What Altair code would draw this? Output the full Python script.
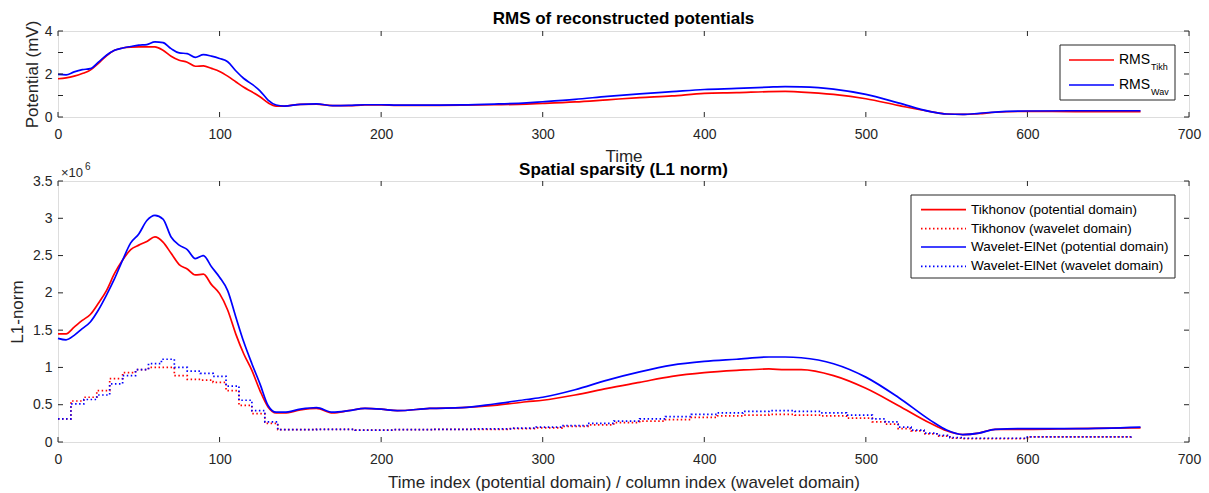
import altair as alt
import pandas as pd

# ---------------- data ----------------
t_solid = [0, 5, 10, 15, 20, 25, 30, 35, 40, 45, 50, 55, 60, 65, 70, 75, 80, 85, 90, 95,
           100, 105, 110, 115, 120, 125, 130, 135, 140, 150, 160, 170, 180, 190, 200, 210,
           230, 250, 270, 290, 300, 320, 340, 360, 380, 400, 420, 440, 450, 460, 480, 500,
           520, 540, 550, 560, 570, 580, 600, 630, 670]

rms_tikh = [1.78, 1.82, 1.90, 2.02, 2.18, 2.50, 2.85, 3.10, 3.21, 3.25, 3.26, 3.26, 3.26, 3.10,
            2.83, 2.64, 2.55, 2.36, 2.38, 2.26, 2.12, 1.90, 1.64, 1.38, 1.17, 0.94, 0.66, 0.51,
            0.51, 0.59, 0.60, 0.53, 0.53, 0.56, 0.56, 0.54, 0.54, 0.55, 0.57, 0.60, 0.63, 0.70,
            0.80, 0.90, 0.98, 1.10, 1.13, 1.18, 1.19, 1.16, 1.05, 0.85, 0.54, 0.25, 0.14, 0.12,
            0.15, 0.22, 0.26, 0.25, 0.25]
rms_wav = [1.98, 1.96, 2.10, 2.20, 2.25, 2.55, 2.87, 3.10, 3.21, 3.28, 3.34, 3.37, 3.49, 3.46,
           3.18, 2.98, 2.95, 2.77, 2.90, 2.83, 2.72, 2.57, 2.15, 1.79, 1.53, 1.22, 0.79, 0.56,
           0.51, 0.59, 0.61, 0.53, 0.54, 0.57, 0.57, 0.55, 0.55, 0.56, 0.60, 0.66, 0.71, 0.82,
           0.96, 1.08, 1.18, 1.28, 1.33, 1.39, 1.41, 1.40, 1.30, 1.05, 0.66, 0.25, 0.14, 0.12,
           0.17, 0.23, 0.28, 0.29, 0.29]

l1_tikh_pot = [1.45, 1.45, 1.54, 1.63, 1.71, 1.86, 2.03, 2.26, 2.44, 2.58, 2.64, 2.69, 2.75, 2.68,
               2.53, 2.38, 2.32, 2.24, 2.25, 2.11, 1.99, 1.77, 1.45, 1.18, 0.96, 0.69, 0.47, 0.39,
               0.39, 0.43, 0.45, 0.39, 0.42, 0.45, 0.44, 0.42, 0.45, 0.46, 0.49, 0.54, 0.56, 0.63,
               0.72, 0.80, 0.88, 0.93, 0.96, 0.98, 0.97, 0.97, 0.89, 0.72, 0.49, 0.25, 0.15, 0.10,
               0.12, 0.17, 0.17, 0.18, 0.19]
l1_wav_pot = [1.39, 1.37, 1.43, 1.52, 1.61, 1.77, 1.97, 2.19, 2.44, 2.67, 2.79, 2.97, 3.04, 2.99,
              2.75, 2.64, 2.58, 2.46, 2.50, 2.35, 2.21, 2.03, 1.68, 1.34, 1.05, 0.78, 0.49, 0.40,
              0.40, 0.44, 0.46, 0.40, 0.42, 0.45, 0.44, 0.42, 0.45, 0.46, 0.51, 0.57, 0.60, 0.70,
              0.83, 0.94, 1.03, 1.08, 1.11, 1.14, 1.14, 1.13, 1.05, 0.87, 0.60, 0.29, 0.16, 0.10,
              0.12, 0.17, 0.18, 0.18, 0.20]

t_wav = [0, 8, 16, 24, 32, 40, 48, 56, 64, 72, 80, 88, 96, 104, 112, 120, 128, 136, 160, 184,
         208, 232, 256, 280, 296, 312, 328, 344, 360, 376, 392, 408, 424, 440, 456, 472, 488,
         504, 512, 520, 528, 536, 544, 552, 560, 600, 664]
l1_tikh_wav = [0.31, 0.55, 0.60, 0.69, 0.85, 0.93, 0.97, 1.00, 1.00, 0.89, 0.84, 0.83, 0.80, 0.69,
               0.49, 0.38, 0.25, 0.165, 0.17, 0.16, 0.165, 0.17, 0.17, 0.18, 0.19, 0.21, 0.23,
               0.26, 0.28, 0.30, 0.33, 0.35, 0.36, 0.37, 0.36, 0.35, 0.32, 0.27, 0.24, 0.18, 0.15,
               0.11, 0.08, 0.05, 0.045, 0.07, 0.076]
l1_wav_wav = [0.31, 0.51, 0.57, 0.63, 0.78, 0.89, 0.97, 1.05, 1.11, 1.00, 0.95, 0.92, 0.88, 0.75,
              0.56, 0.42, 0.27, 0.165, 0.17, 0.16, 0.165, 0.17, 0.175, 0.185, 0.20, 0.22, 0.25,
              0.28, 0.31, 0.34, 0.37, 0.39, 0.41, 0.42, 0.41, 0.39, 0.36, 0.31, 0.27, 0.20, 0.16,
              0.12, 0.09, 0.06, 0.05, 0.07, 0.076]

x_ticks = [0, 100, 200, 300, 400, 500, 600, 700]
y_ticks_top = [0, 1, 2, 3, 4]
y_ticks_bot = [0, 0.5, 1, 1.5, 2, 2.5, 3, 3.5]
y_labels_top = [0, 2, 4]

# ---------------- style ----------------
W = 1131
H_TOP = 86
H_BOT = 261
RED = "#FF0000"
BLUE = "#0000FF"
FONT = "Liberation Sans"
GRAY = "#262626"
LW = 1.7
DOT = [1.5, 2.5]
TITLE_FS = 17
LEG_FS = 13.5

xscale = alt.Scale(domain=[0, 700], nice=False, zero=False)


def axis_x(title, tpad):
    return alt.Axis(values=x_ticks, ticks=False, domain=False, grid=False, labelPadding=10,
                    labelFlush=False, labelOverlap=False,
                    labelFont=FONT, labelFontSize=14, labelColor=GRAY, title=title,
                    titleFont=FONT, titleFontSize=TITLE_FS, titleFontWeight="normal",
                    titleColor=GRAY, titlePadding=tpad)


def axis_y(title, vals, tpad, fmt):
    return alt.Axis(values=vals, ticks=False, domain=False, grid=False, labelPadding=6,
                    labelFlush=False, labelOverlap=False,
                    labelFont=FONT, labelFontSize=14, labelColor=GRAY, title=title,
                    titleFont=FONT, titleFontSize=TITLE_FS, titleFontWeight="normal",
                    titleColor=GRAY, titlePadding=tpad, format=fmt)


def tick_layers(yvals, yscale, h, ax_x, ax_y):
    xt = pd.DataFrame({"t": x_ticks})
    yt = pd.DataFrame({"v": yvals})
    bot = alt.Chart(xt).mark_rule(color=GRAY, strokeWidth=1).encode(
        x=alt.X("t:Q", scale=xscale, axis=ax_x), y=alt.value(h), y2=alt.value(h - 5))
    top = alt.Chart(xt).mark_rule(color=GRAY, strokeWidth=1).encode(
        x=alt.X("t:Q", scale=xscale, axis=ax_x), y=alt.value(0), y2=alt.value(5))
    left = alt.Chart(yt).mark_rule(color=GRAY, strokeWidth=1).encode(
        y=alt.Y("v:Q", scale=yscale, axis=ax_y), x=alt.value(0), x2=alt.value(5))
    right = alt.Chart(yt).mark_rule(color=GRAY, strokeWidth=1).encode(
        y=alt.Y("v:Q", scale=yscale, axis=ax_y), x=alt.value(W - 5), x2=alt.value(W))
    return [bot, top, left, right]


one = pd.DataFrame({"k": [0]})

# ---------------- top panel ----------------
df_top = pd.DataFrame({
    "t": t_solid * 2,
    "v": rms_tikh + rms_wav,
    "s": ["Tikh"] * len(t_solid) + ["Wav"] * len(t_solid),
})
yscale_top = alt.Scale(domain=[0, 4], nice=False)
color_top = alt.Scale(domain=["Tikh", "Wav"], range=[RED, BLUE])
ax_x_top = axis_x("Time", 7)
ax_y_top = axis_y("Potential (mV)", y_labels_top, 3, "d")

top_lines = alt.Chart(df_top).mark_line(strokeWidth=LW, interpolate="monotone").encode(
    x=alt.X("t:Q", scale=xscale, axis=ax_x_top),
    y=alt.Y("v:Q", scale=yscale_top, axis=ax_y_top),
    color=alt.Color("s:N", scale=color_top, legend=None),
    detail="s:N",
)

# legend (top)
lt_box = alt.Chart(one).mark_rect(fill="white", stroke=GRAY, strokeWidth=1).encode(
    x=alt.value(1002), x2=alt.value(1117), y=alt.value(14), y2=alt.value(69))
lt_l1 = alt.Chart(one).mark_rule(color=RED, strokeWidth=LW).encode(
    x=alt.value(1011), x2=alt.value(1056), y=alt.value(29))
lt_l2 = alt.Chart(one).mark_rule(color=BLUE, strokeWidth=LW).encode(
    x=alt.value(1011), x2=alt.value(1056), y=alt.value(54))
lt_t1 = alt.Chart(one).mark_text(text="RMS", align="left", baseline="middle", font=FONT,
                                 fontSize=14, color="#000000").encode(
    x=alt.value(1061), y=alt.value(29))
lt_s1 = alt.Chart(one).mark_text(text="Tikh", align="left", baseline="middle", font=FONT,
                                 fontSize=9, color="#000000").encode(
    x=alt.value(1093), y=alt.value(36))
lt_t2 = alt.Chart(one).mark_text(text="RMS", align="left", baseline="middle", font=FONT,
                                 fontSize=14, color="#000000").encode(
    x=alt.value(1061), y=alt.value(54))
lt_s2 = alt.Chart(one).mark_text(text="Wav", align="left", baseline="middle", font=FONT,
                                 fontSize=9, color="#000000").encode(
    x=alt.value(1093), y=alt.value(61))

top = alt.layer(top_lines, *tick_layers(y_ticks_top, yscale_top, H_TOP, ax_x_top, ax_y_top),
                lt_box, lt_l1, lt_l2, lt_t1, lt_s1, lt_t2, lt_s2).properties(
    width=W, height=H_TOP,
    title=alt.TitleParams("RMS of reconstructed potentials", font=FONT, fontSize=TITLE_FS,
                          fontWeight="bold", color="#000000", offset=-8, anchor="middle",
                          frame="group"),
)

# ---------------- bottom panel ----------------
series_names = ["Tikhonov (potential domain)", "Tikhonov (wavelet domain)",
                "Wavelet-ElNet (potential domain)", "Wavelet-ElNet (wavelet domain)"]
df_pot = pd.DataFrame({
    "t": t_solid * 2,
    "v": l1_tikh_pot + l1_wav_pot,
    "s": [series_names[0]] * len(t_solid) + [series_names[2]] * len(t_solid),
})
df_wav = pd.DataFrame({
    "t": t_wav * 2,
    "v": l1_tikh_wav + l1_wav_wav,
    "s": [series_names[1]] * len(t_wav) + [series_names[3]] * len(t_wav),
})
yscale_bot = alt.Scale(domain=[0, 3.5], nice=False)
color_bot = alt.Scale(domain=series_names, range=[RED, RED, BLUE, BLUE])
ax_x_bot = axis_x("Time index (potential domain) / column index (wavelet domain)", 8)
ax_y_bot = axis_y("L1-norm", y_ticks_bot, 6, "~g")

bot_pot = alt.Chart(df_pot).mark_line(strokeWidth=LW, interpolate="monotone").encode(
    x=alt.X("t:Q", scale=xscale, axis=ax_x_bot),
    y=alt.Y("v:Q", scale=yscale_bot, axis=ax_y_bot),
    color=alt.Color("s:N", scale=color_bot, legend=None),
    detail="s:N",
)
bot_wav = alt.Chart(df_wav).mark_line(strokeWidth=LW, interpolate="step-after",
                                      strokeDash=DOT).encode(
    x=alt.X("t:Q", scale=xscale, axis=ax_x_bot),
    y=alt.Y("v:Q", scale=yscale_bot, axis=ax_y_bot),
    color=alt.Color("s:N", scale=color_bot, legend=None),
    detail="s:N",
)

exp_a = alt.Chart(one).mark_text(text="×10", align="left", baseline="alphabetic", font=FONT,
                                 fontSize=13, color=GRAY).encode(
    x=alt.value(3), y=alt.value(-4))
exp_b = alt.Chart(one).mark_text(text="6", align="left", baseline="alphabetic", font=FONT,
                                 fontSize=10, color=GRAY).encode(
    x=alt.value(27), y=alt.value(-11))

lb_box = alt.Chart(one).mark_rect(fill="white", stroke=GRAY, strokeWidth=1).encode(
    x=alt.value(853), x2=alt.value(1117), y=alt.value(14), y2=alt.value(97))
rows_y = [28.6, 47.6, 66, 85.3]
cols = [RED, RED, BLUE, BLUE]
leg_layers = [lb_box]
for i, name in enumerate(series_names):
    if i % 2 == 0:
        ln = alt.Chart(one).mark_rule(color=cols[i], strokeWidth=LW).encode(
            x=alt.value(863), x2=alt.value(908), y=alt.value(rows_y[i]))
    else:
        ln = alt.Chart(one).mark_rule(color=cols[i], strokeWidth=LW, strokeDash=DOT).encode(
            x=alt.value(863), x2=alt.value(908), y=alt.value(rows_y[i]))
    tx = alt.Chart(one).mark_text(text=name, align="left", baseline="middle", font=FONT,
                                  fontSize=LEG_FS, color="#000000").encode(
        x=alt.value(913), y=alt.value(rows_y[i]))
    leg_layers += [ln, tx]

bottom = alt.layer(bot_pot, bot_wav,
                   *tick_layers(y_ticks_bot, yscale_bot, H_BOT, ax_x_bot, ax_y_bot),
                   exp_a, exp_b, *leg_layers).properties(
    width=W, height=H_BOT,
    title=alt.TitleParams("Spatial sparsity (L1 norm)", font=FONT, fontSize=TITLE_FS,
                          fontWeight="bold", color="#000000", offset=-17, anchor="middle",
                          frame="group"),
)

chart = alt.vconcat(top, bottom, spacing=64, bounds="flush").resolve_scale(
    color="independent"
).properties(
    padding={"left": 8, "top": 9, "right": 5, "bottom": 2},
).configure_view(stroke=GRAY, strokeWidth=1).configure(background="white")

chart.save("out.html", embed_options={"renderer": "svg", "actions": False})
